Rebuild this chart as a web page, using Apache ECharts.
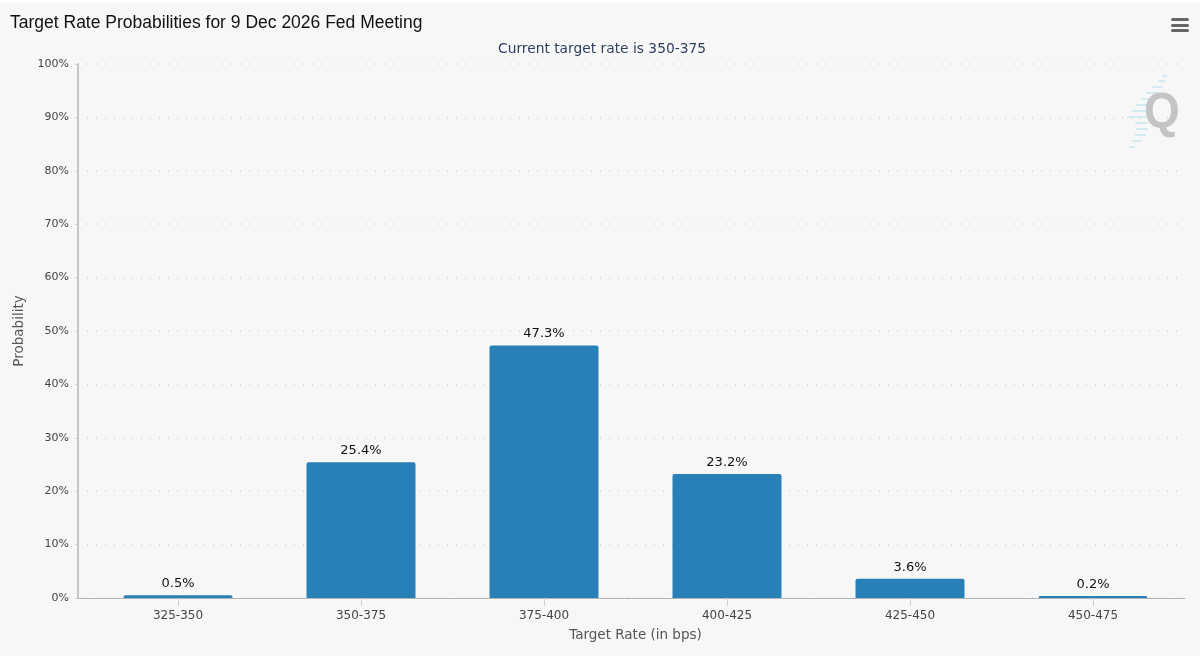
<!DOCTYPE html>
<html><head><meta charset="utf-8">
<style>html,body{margin:0;padding:0;background:#fff}#c{width:1200px;height:656px}</style>
<script src="https://cdn.jsdelivr.net/npm/echarts@6/dist/echarts.min.js"></script>
</head><body><div id="c"></div>
<script>
var categories=['325-350','350-375','375-400','400-425','425-450','450-475'];
var probabilities=[0.5,25.4,47.3,23.2,3.6,0.2];
var titleText='Target Rate Probabilities for 9 Dec 2026 Fed Meeting';
var subtitleText='Current target rate is 350-375';
var yAxisName='Probability';
var xAxisName='Target Rate (in bps)';
var FONT='"DejaVu Sans",sans-serif';
var chart=echarts.init(document.getElementById('c'),null,{renderer:'canvas'});
var stripes=[[1162,1167,75],[1158,1165,80],[1152,1162,86],[1146,1158,92],[1141,1152,98],[1136,1148,104],[1132,1148,110],[1127,1148,116],[1135,1148,122],[1136,1148,128],[1135,1146,134],[1132,1141,140],[1129,1135,146]];
var graphics=[
 {type:'rect',silent:true,z:-10,shape:{x:0,y:3,width:1200,height:653},style:{fill:'#f7f7f7'}},
 {type:'rect',silent:true,shape:{x:1171,y:18,width:18,height:3,r:1.5},style:{fill:'#666'}},
 {type:'rect',silent:true,shape:{x:1171,y:24,width:18,height:3,r:1.5},style:{fill:'#666'}},
 {type:'rect',silent:true,shape:{x:1171,y:29,width:18,height:3,r:1.5},style:{fill:'#666'}},
 {type:'text',silent:true,z:1,x:1162,y:114,scaleX:0.92,style:{x:0,y:0,text:'Q',fill:'#c4c4c4',font:'bold 50px "Liberation Sans"',align:'center',verticalAlign:'middle'}}
];
stripes.forEach(function(s){graphics.push({type:'rect',silent:true,z:0,shape:{x:s[0],y:s[2],width:s[1]-s[0],height:2},style:{fill:'#d3eaf3'}});});
chart.setOption({
 animation:false,
 backgroundColor:'#ffffff',
 title:[
  {text:titleText,left:5,top:9,textStyle:{fontFamily:'"Liberation Sans"',fontSize:17.5,fontWeight:'normal',color:'#111'}},
  {text:subtitleText,left:597,top:37,textAlign:'center',textStyle:{fontFamily:FONT,fontSize:13.8,fontWeight:'normal',color:'#2f3f5f'}}
 ],
 graphic:graphics,
 grid:[
  {left:78,right:15,top:64,bottom:58,containLabel:false},
  {left:86.5,width:1098,top:64,bottom:58,containLabel:false}
 ],
 xAxis:[
  {gridIndex:0,type:'category',data:categories,axisLine:{lineStyle:{color:'#b5b5b5',width:1}},axisTick:{show:false},axisLabel:{show:false},splitLine:{show:false}},
  {gridIndex:1,type:'category',data:categories,name:xAxisName,nameLocation:'middle',nameGap:30,
   nameTextStyle:{fontFamily:FONT,fontSize:13.5,color:'#555'},
   axisLine:{show:false},axisTick:{show:true,alignWithLabel:true,length:8,lineStyle:{color:'#cfcfcf'}},
   axisLabel:{fontFamily:FONT,fontSize:12,color:'#444',margin:12},splitLine:{show:false}}
 ],
 yAxis:[
  {gridIndex:0,type:'value',min:0,max:100,interval:10,name:yAxisName,nameLocation:'middle',nameGap:46,
   nameTextStyle:{fontFamily:FONT,fontSize:13.5,color:'#555'},
   axisLine:{show:true,lineStyle:{color:'#b5b5b5',width:1.5}},axisTick:{show:true,length:3,lineStyle:{color:'#cfcfcf'}},
   axisLabel:{fontFamily:FONT,fontSize:11,color:'#444',margin:9,padding:[4,0,0,0],formatter:'{value}%'},
   splitLine:{show:true,lineStyle:{color:'#cfcfcf',type:[1,8],width:1.5}}},
  {gridIndex:1,type:'value',min:0,max:100,interval:10,show:false,splitLine:{show:false}}
 ],
 series:[{type:'bar',xAxisIndex:1,yAxisIndex:1,data:probabilities,barWidth:109,barMinHeight:2,z:3,
  itemStyle:{color:'#2980b9',borderRadius:[2,2,0,0]},
  label:{show:true,position:'top',distance:5,fontFamily:FONT,fontSize:13,color:'#111',formatter:function(p){return p.value.toFixed(1)+'%';}}
 }]
});
</script></body></html>
